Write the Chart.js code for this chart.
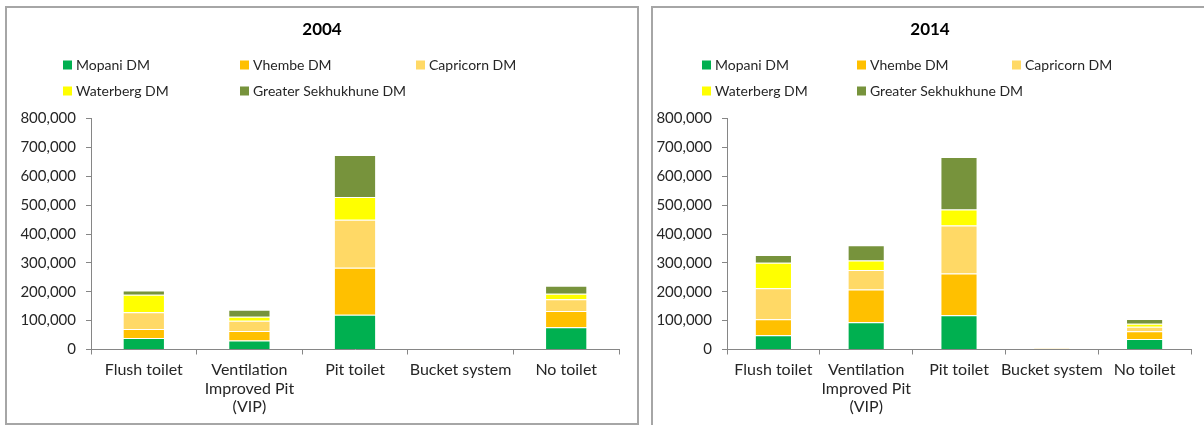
<!DOCTYPE html>
<html>
<head>
<meta charset="utf-8">
<script src="https://cdn.jsdelivr.net/npm/chart.js@4/dist/chart.umd.min.js"></script>
<style>
  html, body { margin: 0; padding: 0; background: #fff; overflow: hidden; }
  body { width: 1204px; height: 425px; position: relative; }
  .panel { position: absolute; border: 2px solid #a6a6a6; background: #fff; }
  #p2004 { left: 5px; top: 6px; width: 630px; height: 415px; }
  #p2014 { left: 651px; top: 6px; width: 560px; height: 430px; }
  canvas { display: block; }
</style>
</head>
<body>
<div class="panel" id="p2004"><canvas id="c2004" width="630" height="414"></canvas></div>
<div class="panel" id="p2014"><canvas id="c2014" width="560" height="414"></canvas></div>
<script>
"use strict";

const FONT = "Lato, 'Open Sans', sans-serif";

const categories = [
  "Flush toilet",
  ["Ventilation", "Improved Pit", "(VIP)"],
  "Pit toilet",
  "Bucket system",
  "No toilet",
];

const districts = [
  "Mopani DM",
  "Vhembe DM",
  "Capricorn DM",
  "Waterberg DM",
  "Greater Sekhukhune DM",
];

const districtColors = ["#00b050", "#ffc000", "#ffd966", "#ffff00", "#77933c"];

// 2004 households by toilet type
const mopani2004 = [40000, 31000, 120000, 1000, 77000];
const vhembe2004 = [31000, 33000, 163000, 1500, 56000];
const capricorn2004 = [58000, 36000, 166000, 1000, 41000];
const waterberg2004 = [61000, 13000, 79000, 500, 19000];
const sekhukhune2004 = [14000, 25000, 146000, 500, 28000];

// 2014 households by toilet type
const mopani2014 = [49500, 94000, 118500, 1500, 36000];
const vhembe2014 = [55000, 114000, 145000, 1500, 27000];
const capricorn2014 = [108000, 67000, 166000, 1500, 16000];
const waterberg2014 = [88000, 33000, 55000, 500, 10000];
const sekhukhune2014 = [27000, 53000, 182000, 1000, 17000];

const yMax = 800000;
const yStep = 100000;

// title + legend drawn in the blank area above the plot
const panelText = {
  id: "panelText",
  afterDraw(chart, args, opts) {
    const ctx = chart.ctx;
    ctx.save();
    ctx.fillStyle = "#000";
    ctx.font = `bold 17px ${FONT}`;
    ctx.textAlign = "center";
    ctx.textBaseline = "middle";
    ctx.fillText(opts.title, opts.titleX, opts.titleY);

    ctx.font = `14px ${FONT}`;
    ctx.textAlign = "left";
    chart.data.datasets.forEach((ds, i) => {
      const x = opts.cols[i % 3];
      const y = opts.rows[Math.floor(i / 3)];
      ctx.fillStyle = ds.backgroundColor;
      ctx.fillRect(x, y - 4.5, 9, 9);
      ctx.fillStyle = "#262626";
      ctx.fillText(ds.label, x + 13, y + 0.5);
    });
    ctx.restore();
  },
};

function makeChart(id, series, text, yWidth, padRight) {
  const datasets = series.map((values, i) => ({
    label: districts[i],
    data: values,
    backgroundColor: districtColors[i],
    borderColor: "rgba(255,255,255,0.55)",
    borderWidth: 1,
    barPercentage: 0.4,
    categoryPercentage: 1,
  }));

  return new Chart(document.getElementById(id), {
    type: "bar",
    data: { labels: categories, datasets },
    plugins: [panelText],
    options: {
      responsive: false,
      animation: false,
      layout: { padding: { top: 110.5, right: padRight, bottom: 0, left: 0 } },
      plugins: {
        legend: { display: false },
        tooltip: { enabled: false },
        title: { display: false },
        panelText: text,
      },
      scales: {
        x: {
          stacked: true,
          offset: true,
          grid: {
            display: true,
            offset: true,
            drawOnChartArea: false,
            tickLength: 5,
            color: "#868686",
          },
          border: { color: "#868686", width: 1 },
          ticks: {
            color: "#262626",
            font: { family: FONT, size: 16, lineHeight: 1.17 },
            padding: 6,
            maxRotation: 0,
            autoSkip: false,
          },
          afterFit: (s) => { s.height = 72.5; },
        },
        y: {
          stacked: true,
          min: 0,
          max: yMax,
          grid: {
            display: true,
            drawOnChartArea: false,
            tickLength: 5,
            color: "#868686",
          },
          border: { color: "#868686", width: 1 },
          ticks: {
            stepSize: yStep,
            color: "#262626",
            font: { family: FONT, size: 15 },
            padding: 10,
            callback: (v) => v.toLocaleString("en-US"),
          },
          afterFit: (s) => { s.width = yWidth; },
        },
      },
    },
  });
}

makeChart(
  "c2004",
  [mopani2004, vhembe2004, capricorn2004, waterberg2004, sekhukhune2004],
  { title: "2004", titleX: 315, titleY: 22, cols: [56, 233, 409], rows: [57, 83] },
  84,
  18
);

makeChart(
  "c2014",
  [mopani2014, vhembe2014, capricorn2014, waterberg2014, sekhukhune2014],
  { title: "2014", titleX: 277, titleY: 22, cols: [49, 204, 359], rows: [57, 83] },
  74,
  22
);
</script>
</body>
</html>
